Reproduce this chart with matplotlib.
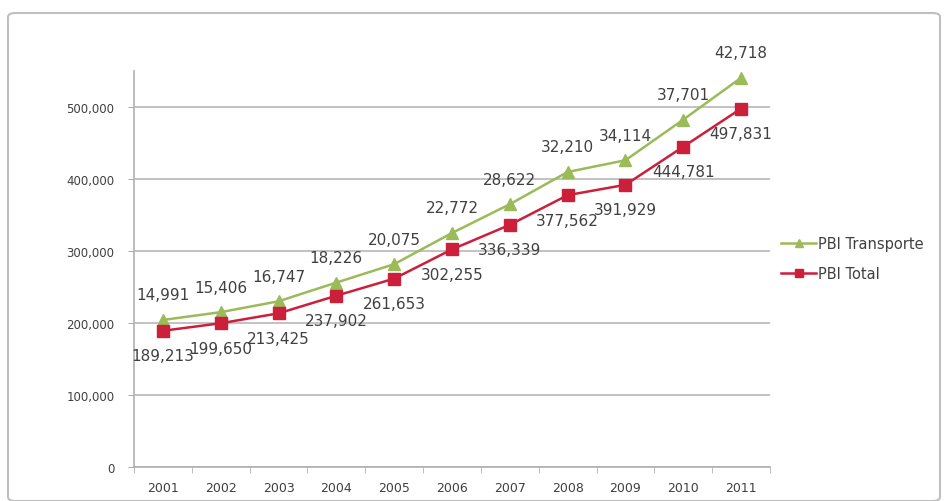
import matplotlib
matplotlib.use("Agg")
import matplotlib.pyplot as plt
from matplotlib.patches import FancyBboxPatch
import numpy as np

years = ["2001", "2002", "2003", "2004", "2005", "2006", "2007", "2008", "2009", "2010", "2011"]
pbi_total = [189213, 199650, 213425, 237902, 261653, 302255, 336339, 377562, 391929, 444781, 497831]
pbi_transporte = [14991, 15406, 16747, 18226, 20075, 22772, 28622, 32210, 34114, 37701, 42718]

green = "#9BBB59"
red = "#CC1F3A"
txt = "#404040"

fig = plt.figure(figsize=(9.44, 5.02), dpi=100)
ax = fig.add_axes([134/944, 1-468/502, (770-134)/944, (468-72)/502])

x = np.arange(len(years))
stacked = np.array(pbi_total) + np.array(pbi_transporte)

ax.plot(x, stacked, color=green, lw=1.8, marker="^", ms=8, mec=green, mfc=green,
        label="PBI Transporte", zorder=3)
ax.plot(x, pbi_total, color=red, lw=1.8, marker="s", ms=8.5, mec=red, mfc=red,
        label="PBI Total", zorder=3)

for xi, yv, lab in zip(x, stacked, pbi_transporte):
    ax.annotate(f"{lab:,}", (xi, yv), xytext=(0, 18), textcoords="offset points",
                ha="center", va="center", fontsize=11, color=txt)
for xi, yv in zip(x, pbi_total):
    ax.annotate(f"{yv:,}", (xi, yv), xytext=(0, -18), textcoords="offset points",
                ha="center", va="center", fontsize=11, color=txt)

ax.set_xlim(-0.5, len(years) - 0.5)
ax.set_ylim(0, 550000)
ax.set_yticks(np.arange(0, 500001, 100000))
ax.set_yticklabels([f"{v:,}" for v in range(0, 500001, 100000)], fontsize=8.5, color=txt)
ax.set_xticks(x)
ax.set_xticklabels(years, fontsize=9, color=txt)
ax.set_xticks(np.arange(-0.5, len(years), 1), minor=True)
ax.tick_params(axis="x", which="major", length=0, pad=10)
ax.tick_params(axis="x", which="minor", length=4, color="#B0B0B0")
ax.tick_params(axis="y", length=4, color="#B0B0B0", pad=10)

ax.grid(axis="y", color="#B8B8B8", lw=1.2)
ax.set_axisbelow(True)
for s in ["top", "right"]:
    ax.spines[s].set_visible(False)
for s in ["left", "bottom"]:
    ax.spines[s].set_color("#B0B0B0")
    ax.spines[s].set_linewidth(1.2)

leg = fig.legend(loc="upper left", bbox_to_anchor=(768/944, 1-224/502), frameon=False,
                 fontsize=10.5, handlelength=2.4, handletextpad=0.1, labelspacing=1.0,
                 labelcolor=txt)
for h in leg.legend_handles:
    h.set_markersize(6)

border = FancyBboxPatch((8/944, 0.0), (940-8)/944, 1-14/502,
                        boxstyle="round,pad=0,rounding_size=0.008",
                        transform=fig.transFigure, fill=False, ec="#BFBFBF", lw=1.5)
fig.patches.append(border)

fig.savefig("out.png", dpi=100)
